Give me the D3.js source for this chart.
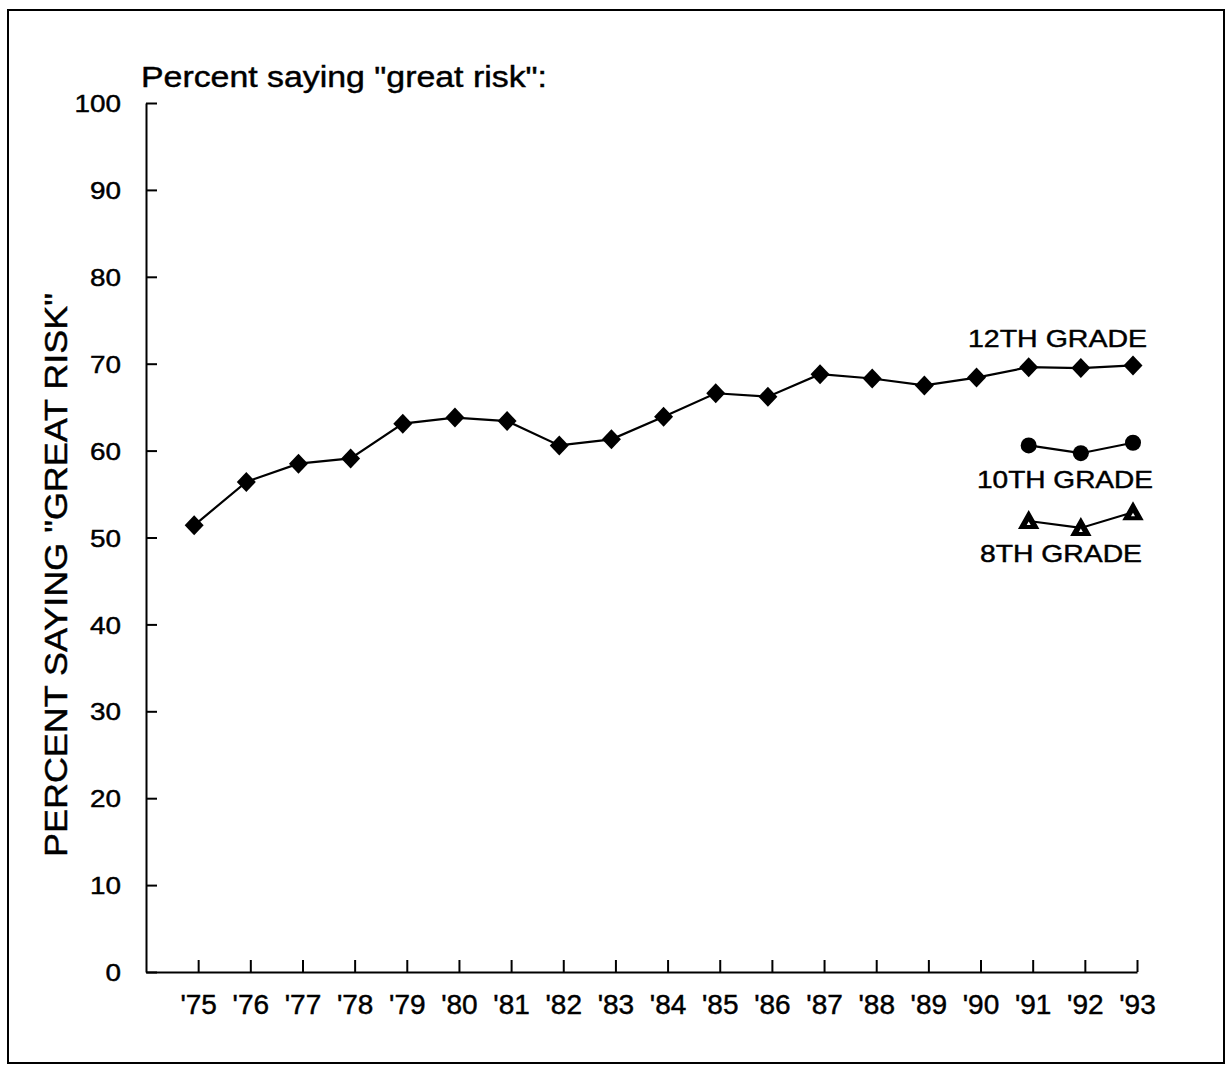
<!DOCTYPE html>
<html>
<head>
<meta charset="utf-8">
<script src="https://cdn.jsdelivr.net/npm/d3@7"></script>
<style>
  html, body { margin: 0; padding: 0; background: #fff; }
  svg text { font-family: "Liberation Sans", Arial, sans-serif; fill: #000; stroke: #000; stroke-width: 0.45px; }
</style>
</head>
<body>
<svg id="chart" width="1226" height="1066"></svg>
<script>
// ---- data ----
const years = [1975,1976,1977,1978,1979,1980,1981,1982,1983,1984,1985,1986,1987,1988,1989,1990,1991,1992,1993];
const tickLabels = ["'75","'76","'77","'78","'79","'80","'81","'82","'83","'84","'85","'86","'87","'88","'89","'90","'91","'92","'93"];
const grade12 = [51.4,56.4,58.5,59.1,63.1,63.8,63.4,60.6,61.3,63.9,66.6,66.2,68.8,68.3,67.5,68.4,69.6,69.5,69.8];
const years10 = [1991,1992,1993];
const grade10 = [60.6,59.7,60.9];
const years8 = [1991,1992,1993];
const grade8 = [51.9,51.1,52.9];
const yTicks = [0,10,20,30,40,50,60,70,80,90,100];

const svg = d3.select("#chart");

// frame
svg.append("rect").attr("x", 8).attr("y", 10).attr("width", 1216).attr("height", 1053)
  .attr("fill", "none").attr("stroke", "#000").attr("stroke-width", 2);

const x = d3.scaleLinear().domain([1974, 1993]).range([146, 1137]);
const y = d3.scaleLinear().domain([0, 100]).range([972, 103]);
const mOff = -4; // markers sit slightly left of ticks in the original

// y axis
const yAxis = svg.append("g").attr("transform", "translate(146,0)")
  .call(d3.axisLeft(y).tickValues(yTicks).tickSize(-11).tickSizeOuter(0).tickPadding(25));
yAxis.selectAll("path,line").attr("stroke", "#000").attr("stroke-width", 2);
yAxis.selectAll("text").attr("font-size", 24).attr("dy", "0.36em")
  .attr("textLength", d => String(d).length * 15.5).attr("lengthAdjust", "spacingAndGlyphs");

// x axis
const xAxis = svg.append("g").attr("transform", "translate(0,972)")
  .call(d3.axisBottom(x).tickValues(years).tickSize(-12).tickSizeOuter(0).tickPadding(22)
    .tickFormat((d, i) => tickLabels[i]));
xAxis.selectAll("path,line").attr("stroke", "#000").attr("stroke-width", 2);
xAxis.selectAll("text").attr("font-size", 28);

// titles
svg.append("text").attr("x", 141).attr("y", 87).attr("font-size", 30)
  .attr("textLength", 406).attr("lengthAdjust", "spacingAndGlyphs")
  .text('Percent saying "great risk":');
svg.append("text").attr("transform", "translate(67,575) rotate(-90)")
  .attr("text-anchor", "middle").attr("font-size", 31)
  .attr("textLength", 564).attr("lengthAdjust", "spacingAndGlyphs")
  .text('PERCENT SAYING "GREAT RISK"');

// lines
const line = d3.line().x(d => x(d[0]) + mOff).y(d => y(d[1]));
function series(xs, vs) { return xs.map((yr, i) => [yr, vs[i]]); }
const s12 = series(years, grade12), s10 = series(years10, grade10), s8 = series(years8, grade8);
[s12, s10, s8].forEach(s => {
  svg.append("path").datum(s).attr("d", line).attr("fill", "none")
    .attr("stroke", "#000").attr("stroke-width", 2.2);
});

// markers
svg.append("g").selectAll("path").data(s12).join("path")
  .attr("transform", d => `translate(${x(d[0]) + mOff},${y(d[1])})`)
  .attr("d", "M0,-10L9.5,0L0,10L-9.5,0Z").attr("fill", "#000");
svg.append("g").selectAll("circle").data(s10).join("circle")
  .attr("cx", d => x(d[0]) + mOff).attr("cy", d => y(d[1])).attr("r", 8).attr("fill", "#000");
svg.append("g").selectAll("path").data(s8).join("path")
  .attr("transform", d => `translate(${x(d[0]) + mOff},${y(d[1])})`)
  .attr("d", "M0,-9L9,7L-9,7Z").attr("fill", "#000").attr("stroke", "#000").attr("stroke-width", 2);
svg.append("g").selectAll("path").data(s8).join("path")
  .attr("transform", d => `translate(${x(d[0]) + mOff},${y(d[1])})`)
  .attr("d", "M0,0.5L2,4L-2,4Z").attr("fill", "#fff");

// group labels
const lbls = [
  { t: "12TH GRADE", x: 968, y: 347, w: 179 },
  { t: "10TH GRADE", x: 977, y: 488, w: 176 },
  { t: "8TH GRADE", x: 980, y: 562, w: 162 }
];
svg.append("g").selectAll("text").data(lbls).join("text")
  .attr("x", d => d.x).attr("y", d => d.y).attr("font-size", 24)
  .attr("textLength", d => d.w).attr("lengthAdjust", "spacingAndGlyphs")
  .text(d => d.t);
</script>
</body>
</html>
